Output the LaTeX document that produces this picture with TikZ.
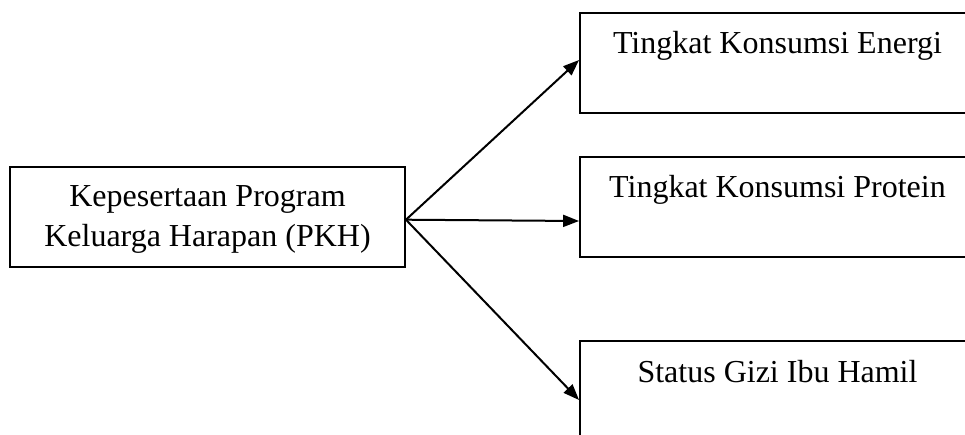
\documentclass[tikz,border=0pt]{standalone}
\usepackage{fontspec}
\setmainfont{Liberation Serif}
\usetikzlibrary{arrows.meta}
\begin{document}
\begin{tikzpicture}[x=1pt,y=-1pt,
  box/.style={draw=black,line width=1.9pt,rectangle,inner sep=0pt},
  lbl/.style={anchor=base,inner sep=0pt,font=\fontsize{32}{40}\selectfont},
  arr/.style={line width=2pt,-{Triangle[length=16pt,width=12pt]}}]
\useasboundingbox (0,0) rectangle (965,434);
\begin{scope}
\clip (0,0) rectangle (965,434);
\node[box,minimum width=395pt,minimum height=100pt] (k) at (207.5,216.7) {};
\node[box,minimum width=395pt,minimum height=100pt] (e) at (777.5,63) {};
\node[box,minimum width=395pt,minimum height=100pt] (p) at (777.5,207) {};
\node[box,minimum width=395pt,minimum height=100pt] (s) at (777.5,391) {};
\end{scope}
\node[lbl] (k1) at (207.5,206.5) {Kepesertaan Program};
\node[lbl] (k2) at (207.5,246.5) {Keluarga Harapan (PKH)};
\node[lbl] (et) at (777.5,53) {Tingkat Konsumsi Energi};
\node[lbl] (pt) at (777.5,197) {Tingkat Konsumsi Protein};
\node[lbl] (st) at (777.5,382) {Status Gizi Ibu Hamil};
\coordinate (o) at ([yshift=-3pt]k.east);
\draw[arr] (o) -- ([yshift=3pt]e.west);
\draw[arr] (o) -- ([yshift=-14pt]p.west);
\draw[arr] (o) -- ([yshift=-9pt]s.west);
\end{tikzpicture}
\end{document}
